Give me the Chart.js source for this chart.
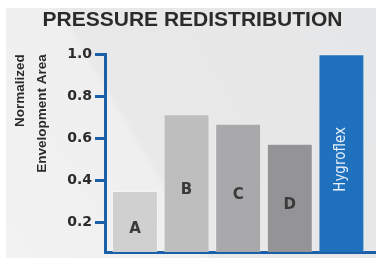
<!DOCTYPE html>
<html>
<head>
<meta charset="utf-8">
<script src="https://cdn.jsdelivr.net/npm/chart.js@4"></script>
<style>
    html, body { margin: 0; padding: 0; background: #ffffff; }
    #panel {
        position: absolute; left: 6px; top: 8px; width: 370px; height: 250px;
        background: linear-gradient(59deg, #f2f2f3 0%, #efeff0 38%, #e9e9ea 39.5%, #e5e6e7 100%);
    }
    #chart { position: absolute; left: 0; top: 0; }
</style>
</head>
<body>
<div id="panel"></div>
<canvas id="chart" width="376" height="260"></canvas>
<script>
// data
const categories = ['A', 'B', 'C', 'D', 'Hygroflex'];
const values = [0.35, 0.715, 0.67, 0.575, 1.0];
const barColors = ['#d0d0d1', '#bebebf', '#a9a9ab', '#949496', '#1f70bd'];
const yTicks = [0.2, 0.4, 0.6, 0.8, 1.0];

const AXIS_BLUE = '#1b5fa9';
const TEXT = '#2b2b2b';

// labels drawn inside the bars
const barLabels = {
    id: 'barLabels',
    afterDatasetsDraw(chart) {
        const ctx = chart.ctx;
        const meta = chart.getDatasetMeta(0);
        meta.data.forEach((bar, i) => {
            const cy = (bar.y + bar.base) / 2;
            ctx.save();
            ctx.textAlign = 'center';
            ctx.textBaseline = 'middle';
            if (i === categories.length - 1) {
                ctx.translate(bar.x, cy);
                ctx.rotate(-Math.PI / 2);
                ctx.fillStyle = '#e6f0fa';
                ctx.font = '15px "Liberation Sans Narrow", "DejaVu Sans Condensed", sans-serif';
                ctx.fillText(categories[i], 0, 0);
            } else {
                ctx.fillStyle = '#3a3a3a';
                ctx.font = 'bold 15px "DejaVu Sans", sans-serif';
                ctx.fillText(categories[i], bar.x, cy + 1);
            }
            ctx.restore();
        });
    }
};

new Chart(document.getElementById('chart'), {
    type: 'bar',
    data: {
        labels: categories,
        datasets: [{
            data: values.map((v, i) => ({ x: i, y: v })),
            backgroundColor: barColors,
            borderColor: 'rgba(255,255,255,0.25)',
            borderWidth: 1,
            categoryPercentage: 1,
            barPercentage: 0.89
        }]
    },
    options: {
        responsive: false,
        animation: false,
        layout: { padding: { left: 9, right: 0, top: 8, bottom: 8 } },
        plugins: {
            legend: { display: false },
            tooltip: { enabled: false },
            title: {
                display: true,
                text: 'PRESSURE REDISTRIBUTION',
                color: TEXT,
                font: { family: '"Liberation Sans", Arial, sans-serif', size: 21, weight: 'bold' },
                padding: { top: 0, bottom: 21 }
            }
        },
        scales: {
            x: {
                type: 'linear',
                offset: false,
                min: -0.58,
                max: 4.67,
                ticks: { display: false },
                grid: { display: false, drawTicks: false, offset: false },
                border: { display: true, color: AXIS_BLUE, width: 3 }
            },
            y: {
                min: 0.06,
                max: 1.0,
                afterBuildTicks(scale) {
                    scale.ticks = yTicks.map(v => ({ value: v }));
                },
                afterFit(scale) {
                    scale.width = 96;
                    // lowest label sits well above the axis end, no room needed
                    scale.paddingBottom = 0;
                },
                ticks: {
                    color: TEXT,
                    padding: 3,
                    font: { family: '"DejaVu Sans", sans-serif', size: 14, weight: 'bold' },
                    callback: v => v.toFixed(1)
                },
                grid: {
                    display: true,
                    drawOnChartArea: false,
                    drawTicks: true,
                    tickLength: 10,
                    lineWidth: 3,
                    color: AXIS_BLUE
                },
                border: { display: true, color: AXIS_BLUE, width: 3 },
                title: {
                    display: true,
                    text: ['Normalized', 'Envelopment Area'],
                    align: 'end',
                    color: TEXT,
                    padding: 0,
                    font: { family: '"Liberation Sans", Arial, sans-serif', size: 13.5, weight: 'bold', lineHeight: 1.65 }
                }
            }
        }
    },
    plugins: [barLabels]
});
</script>
</body>
</html>
